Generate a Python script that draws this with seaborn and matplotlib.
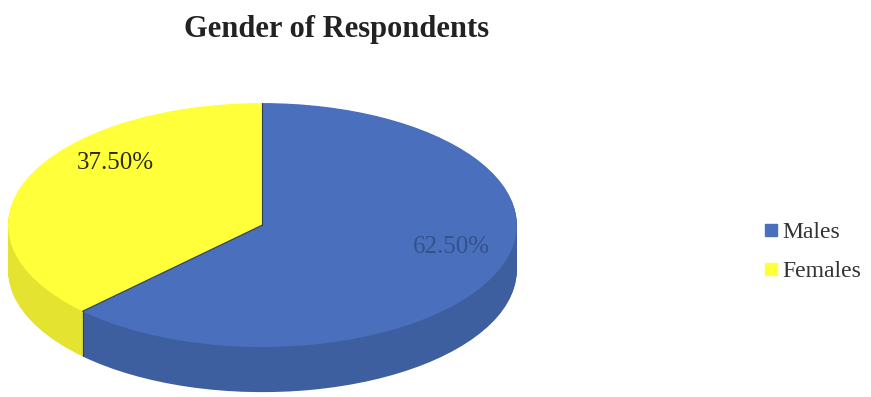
import numpy as np
import matplotlib.pyplot as plt
from matplotlib.lines import Line2D
import seaborn as sns

labels = ['Males', 'Females']
shares = [62.5, 37.5]
top_colors = ['#4a70bd', '#ffff3a']
side_colors = ['#3d5e9f', '#e3e330']
label_colors = ['#33528c', '#2a2a20']

sns.set_theme(style='white')
plt.rcParams['font.family'] = ['Liberation Serif', 'DejaVu Serif']

fig = plt.figure(figsize=(8.71, 3.97), dpi=100)
ax = fig.add_axes([0.0005, 0.0, 0.6016, 0.7557])

# side wall: stacked copies of the pie shifted down
depth = 0.37
for k in np.linspace(depth, 0.005, 40):
    ax.pie(shares, colors=side_colors, startangle=90, counterclock=False,
           center=(0, -k), wedgeprops=dict(linewidth=0))

# top face
wedges, _ = ax.pie(shares, colors=top_colors, startangle=90, counterclock=False,
                   wedgeprops=dict(linewidth=0))

# dark seams only along the cuts between slices
for w in wedges:
    t = np.deg2rad(w.theta1)
    ax.plot([0, np.cos(t)], [0, np.sin(t)], color='#2d3a5a', lw=0.8)
    if np.sin(t) < 0:
        ax.plot([np.cos(t)] * 2, [np.sin(t), np.sin(t) - depth],
                color='#2d3a5a', lw=0.8)

ax.set_aspect('auto')
ax.set_xlim(-1.03, 1.03)
ax.set_ylim(-1.41, 1.05)
ax.axis('off')

label_pos = [(0.744, -0.18), (-0.58, 0.51)]
for v, (x, y), c in zip(shares, label_pos, label_colors):
    ax.text(x, y, f'{v:.2f}%', ha='center', va='center', fontsize=18, color=c)

fig.text(0.386, 0.925, 'Gender of Respondents', ha='center', va='center',
         fontsize=22, fontweight='bold', color='#222222')

handles = [Line2D([], [], marker='s', linestyle='', markersize=8,
                  markerfacecolor=c, markeredgecolor=c) for c in top_colors]
fig.legend(handles, labels, loc='center left', bbox_to_anchor=(0.853, 0.365),
           frameon=False, fontsize=17, handletextpad=0.15, labelspacing=0.75,
           handlelength=0.6, labelcolor='#333333')

plt.savefig('out.png', dpi=100)
